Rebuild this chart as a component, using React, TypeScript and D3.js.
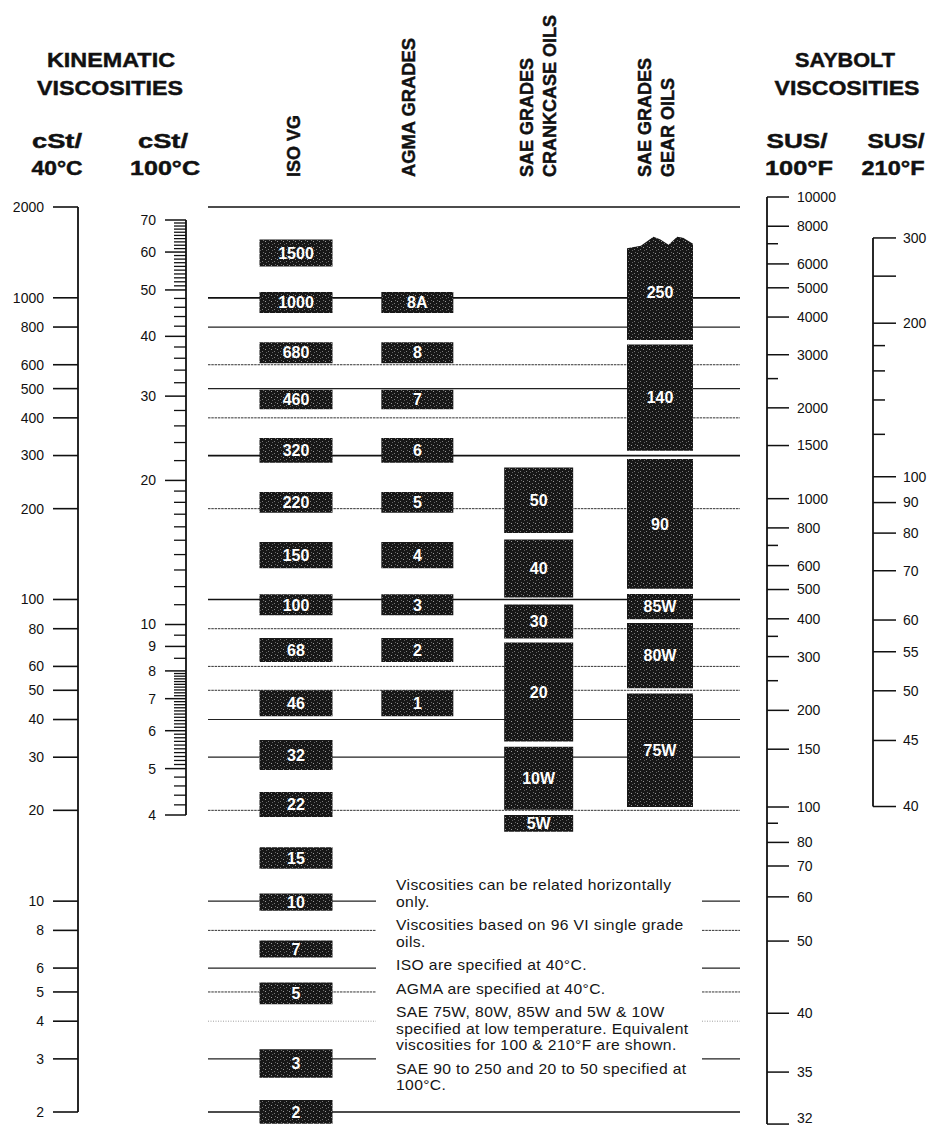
import React, { useRef, useEffect } from 'react';
import * as d3 from 'd3';

const WIDTH = 935;
const HEIGHT = 1129;

// cSt at 40 C, left scale (also the horizontal guide lines)
const cst40Ticks = [2000, 1000, 800, 600, 500, 400, 300, 200, 100, 80, 60, 50, 40, 30, 20, 10, 8, 6, 5, 4, 3, 2];
const heavyLines = [2000, 1000, 300, 100, 2];
const mediumLines = [800, 500, 40, 30, 10, 6, 3];
const faintLines = [4];
const brokenLines = [10, 8, 6, 5, 4, 3];

// cSt at 100 C
const cst100Labels = [70, 60, 50, 40, 30, 20, 10, 9, 8, 7, 6, 5, 4];

// Saybolt scales
const sus100Labels = [10000, 8000, 6000, 5000, 4000, 3000, 2000, 1500, 1000, 800, 600, 500, 400, 300, 200, 150, 100, 80, 70, 60, 50, 40, 35, 32];
const sus100Minor = [7000, 2500, 700, 350, 250, 90];
const sus210Labels = [300, 200, 100, 90, 80, 70, 60, 55, 50, 45, 40];
const sus210Long = [250];
const sus210Minor = [180, 160, 140, 120];

// grade bands, low/high in cSt at 40 C
const isoGrades = ['1500', '1000', '680', '460', '320', '220', '150', '100', '68', '46', '32', '22', '15', '10', '7', '5', '3', '2'];
const isoLow = [1270, 890, 607, 427, 284, 194, 127, 88.6, 62, 41, 27.2, 19, 12.8, 9.3, 6.5, 4.55, 2.6, 1.83];
const isoHigh = [1560, 1045, 713, 496, 343, 227, 155, 104, 74.5, 50, 34.2, 23, 15.1, 10.6, 7.4, 5.37, 3.23, 2.19];

const agmaGrades = ['8A', '8', '7', '6', '5', '4', '3', '2', '1'];
const agmaIso = ['1000', '680', '460', '320', '220', '150', '100', '68', '46'];

const crankGrades = ['50', '40', '30', '20', '10W', '5W'];
const crankLow = [166, 101.5, 74.2, 33.8, 20.1, 17];
const crankHigh = [274, 158, 96.2, 72, 32.5, 19.3];

const gearGrades = ['250', '140', '90', '85W', '80W', '75W'];
const gearLow = [725, 311, 108.6, 86, 50.8, 20.5];
const gearHigh = [1505, 700, 292, 104.3, 83.5, 48.8];

const notes = [
    ['Viscosities can be related horizontally', 'only.'],
    ['Viscosities based on 96 VI single grade', 'oils.'],
    ['ISO are specified at 40°C.'],
    ['AGMA are specified at 40°C.'],
    ['SAE 75W, 80W, 85W and 5W & 10W', 'specified at low temperature. Equivalent', 'viscosities for 100 & 210°F are shown.'],
    ['SAE 90 to 250 and 20 to 50 specified at', '100°C.'],
];

const columns = ['ISO VG', 'AGMA', 'CRANK', 'GEAR'];

const FONT = '"Liberation Sans", Arial, Helvetica, sans-serif';

// ASTM D2161 Saybolt Universal Seconds at 100 F from cSt
const sus = (v: number) =>
    4.6324 * v + (1.0 + 0.03264 * v) / ((3930.2 + 262.7 * v + 23.97 * v * v + 1.646 * v * v * v) * 1e-5);

const ViscosityChart: React.FC = () => {
    const ref = useRef<SVGSVGElement | null>(null);

    useEffect(() => {
        if (!ref.current) return;
        const svg = d3.select(ref.current);
        svg.selectAll('*').remove();

        const y40 = d3.scaleLog().domain([2, 2000]).range([1112, 207]);
        const y100 = d3.scaleLog().domain([4, 70]).range([815, 220]);
        const grid = d3.range(-20, 370).map(e => Math.pow(10, e / 100));
        const ySus100 = d3.scaleLog().domain(grid.map(sus)).range(grid.map(v => y40(v)));
        const ySus210 = d3.scaleLog().domain(grid.map(v => sus(v) * 1.00671)).range(grid.map(v => y100(v)));
        const labelY = (y: number) => Math.min(y, HEIGHT - 11);

        const xCol = d3.scalePoint<string>().domain(columns).range([296, 660]);
        const colWidth: Record<string, number> = { 'ISO VG': 73, AGMA: 72, CRANK: 69, GEAR: 66 };

        const defs = svg.append('defs');
        const pat = defs.append('pattern').attr('id', 'stipple')
            .attr('width', 6).attr('height', 6).attr('patternUnits', 'userSpaceOnUse');
        pat.append('rect').attr('width', 6).attr('height', 6).attr('fill', '#171717');
        [[1, 1, '#9a9a9a'], [4, 3, '#7a7a7a'], [2, 4, '#5e5e5e'], [5, 0, '#6a6a6a']].forEach(([x, y, c]) => {
            pat.append('rect').attr('x', x).attr('y', y).attr('width', 1).attr('height', 1).attr('fill', c as string);
        });

        const root = svg.append('g').attr('font-family', FONT).attr('fill', '#111');

        // ---- headers
        const head = root.append('g').attr('font-weight', 'bold').attr('stroke', '#111').attr('stroke-width', 0.45);
        const headText = (t: string, cx: number, y: number, len: number, size: number) =>
            head.append('text').attr('x', cx).attr('y', y).attr('text-anchor', 'middle')
                .attr('font-size', size).attr('textLength', len).attr('lengthAdjust', 'spacingAndGlyphs').text(t);
        headText('KINEMATIC', 111, 67, 128, 21);
        headText('VISCOSITIES', 110, 95, 146, 21);
        headText('cSt/', 57, 148, 50, 20);
        headText('40°C', 57, 175, 51, 20);
        headText('cSt/', 163, 148, 50, 20);
        headText('100°C', 165, 175, 70, 20);
        headText('SAYBOLT', 845, 67, 100, 21);
        headText('VISCOSITIES', 847, 95, 145, 21);
        headText('SUS/', 797, 148, 61, 20);
        headText('100°F', 799, 175, 68, 20);
        headText('SUS/', 896, 148, 57, 20);
        headText('210°F', 893, 175, 63, 20);

        const rotText = (t: string, cx: number, len: number) =>
            head.append('text').attr('transform', `translate(${cx + 7},177) rotate(-90)`)
                .attr('font-size', 18).attr('textLength', len).attr('lengthAdjust', 'spacingAndGlyphs').text(t);
        rotText('ISO VG', 293, 62);
        rotText('AGMA GRADES', 408, 139);
        rotText('SAE GRADES', 526, 119);
        rotText('CRANKCASE OILS', 549, 162);
        rotText('SAE GRADES', 644, 119);
        rotText('GEAR OILS', 667, 99);

        // ---- horizontal guide lines
        const guides = root.append('g').attr('fill', 'none');
        cst40Ticks.forEach(v => {
            const segs = brokenLines.includes(v) ? [[208, 376], [702, 740]] : [[208, 740]];
            segs.forEach(([a, b]) => {
                const l = guides.append('line').attr('x1', a).attr('x2', b).attr('y1', y40(v)).attr('y2', y40(v));
                if (heavyLines.includes(v)) l.attr('stroke', '#111').attr('stroke-width', 1.7);
                else if (mediumLines.includes(v)) l.attr('stroke', '#222').attr('stroke-width', 1.2);
                else if (faintLines.includes(v)) l.attr('stroke', '#888').attr('stroke-width', 0.8).attr('stroke-dasharray', '1 1.5');
                else l.attr('stroke', '#333').attr('stroke-width', 1).attr('stroke-dasharray', '2.5 0.8');
            });
        });

        // ---- left axis, cSt/40C
        const ax40 = root.append('g').attr('stroke', '#111');
        ax40.append('line').attr('x1', 78).attr('x2', 78).attr('y1', y40(2000)).attr('y2', y40(2)).attr('stroke-width', 1.8);
        ax40.selectAll('line.t').data(cst40Ticks).join('line').attr('class', 't')
            .attr('x1', 53).attr('x2', 78).attr('y1', d => y40(d)).attr('y2', d => y40(d)).attr('stroke-width', 1.6);
        root.append('g').attr('font-size', 14).attr('text-anchor', 'end')
            .selectAll('text').data(cst40Ticks).join('text')
            .attr('x', 44).attr('y', d => y40(d)).attr('dy', '0.35em').text(d => d);

        // ---- cSt/100C axis
        const minor100 = [
            ...d3.range(51, 70), ...d3.range(22, 50, 2), ...d3.range(11, 20), 8.5, 9.5,
            ...d3.range(51, 80).filter(i => i % 10 !== 0).map(i => i / 10),
            ...d3.range(21, 25).map(i => i / 5),
        ].filter(v => !cst100Labels.includes(v));
        const ax100 = root.append('g').attr('stroke', '#111');
        ax100.append('line').attr('x1', 186).attr('x2', 186).attr('y1', y100(70)).attr('y2', y100(4)).attr('stroke-width', 1.8);
        ax100.selectAll('line.M').data(cst100Labels).join('line').attr('class', 'M')
            .attr('x1', 165).attr('x2', 186).attr('y1', d => y100(d)).attr('y2', d => y100(d)).attr('stroke-width', 1.5);
        ax100.selectAll('line.m').data(minor100).join('line').attr('class', 'm')
            .attr('x1', 174).attr('x2', 186).attr('y1', d => y100(d)).attr('y2', d => y100(d)).attr('stroke-width', 1.3);
        root.append('g').attr('font-size', 14).attr('text-anchor', 'end')
            .selectAll('text').data(cst100Labels).join('text')
            .attr('x', 156).attr('y', d => y100(d)).attr('dy', '0.35em').text(d => d);

        // ---- SUS/100F axis
        const axS1 = root.append('g').attr('stroke', '#111');
        axS1.append('line').attr('x1', 767).attr('x2', 767).attr('y1', ySus100(10000)).attr('y2', ySus100(32)).attr('stroke-width', 1.8);
        axS1.selectAll('line.M').data(sus100Labels).join('line').attr('class', 'M')
            .attr('x1', 767).attr('x2', 789).attr('y1', d => ySus100(d)).attr('y2', d => ySus100(d)).attr('stroke-width', 1.5);
        axS1.selectAll('line.m').data(sus100Minor).join('line').attr('class', 'm')
            .attr('x1', 767).attr('x2', 778).attr('y1', d => ySus100(d)).attr('y2', d => ySus100(d)).attr('stroke-width', 1.5);
        root.append('g').attr('font-size', 14)
            .selectAll('text').data(sus100Labels).join('text')
            .attr('x', 797).attr('y', d => labelY(ySus100(d))).attr('dy', '0.35em').text(d => d);

        // ---- SUS/210F axis
        const axS2 = root.append('g').attr('stroke', '#111');
        axS2.append('line').attr('x1', 873).attr('x2', 873).attr('y1', ySus210(300)).attr('y2', ySus210(40)).attr('stroke-width', 1.8);
        axS2.selectAll('line.M').data([...sus210Labels, ...sus210Long]).join('line').attr('class', 'M')
            .attr('x1', 873).attr('x2', 896).attr('y1', d => ySus210(d)).attr('y2', d => ySus210(d)).attr('stroke-width', 1.5);
        axS2.selectAll('line.m').data(sus210Minor).join('line').attr('class', 'm')
            .attr('x1', 873).attr('x2', 885).attr('y1', d => ySus210(d)).attr('y2', d => ySus210(d)).attr('stroke-width', 1.5);
        root.append('g').attr('font-size', 14)
            .selectAll('text').data(sus210Labels).join('text')
            .attr('x', 903).attr('y', d => ySus210(d)).attr('dy', '0.35em').text(d => d);

        // ---- grade boxes
        type Band = { label: string; lo: number; hi: number; col: string };
        const bands: Band[] = [
            ...isoGrades.map((g, i) => ({ label: g, lo: isoLow[i], hi: isoHigh[i], col: 'ISO VG' })),
            ...agmaGrades.map((g, i) => {
                const k = isoGrades.indexOf(agmaIso[i]);
                return { label: g, lo: isoLow[k], hi: isoHigh[k], col: 'AGMA' };
            }),
            ...crankGrades.map((g, i) => ({ label: g, lo: crankLow[i], hi: crankHigh[i], col: 'CRANK' })),
            ...gearGrades.map((g, i) => ({ label: g, lo: gearLow[i], hi: gearHigh[i], col: 'GEAR' })),
        ];

        const boxes = root.append('g');
        const bg = boxes.selectAll('g').data(bands).join('g');
        bg.append('path')
            .attr('fill', 'url(#stipple)')
            .attr('d', d => {
                const w = colWidth[d.col];
                const x0 = (xCol(d.col) as number) - w / 2;
                const x1 = x0 + w;
                const yt = y40(d.hi);
                const yb = y40(d.lo);
                if (d.label === '250') {
                    // torn top: the band continues above the chart
                    const p = d3.path();
                    p.moveTo(x0, yt + 4);
                    p.lineTo(x0 + 0.21 * w, yt + 1.5);
                    p.lineTo(x0 + 0.4 * w, yt - 7.5);
                    p.lineTo(x0 + 0.5 * w, yt - 5);
                    p.lineTo(x0 + 0.63 * w, yt + 0.5);
                    p.lineTo(x0 + 0.76 * w, yt - 7.5);
                    p.lineTo(x0 + 0.85 * w, yt - 6.5);
                    p.lineTo(x1, yt - 0.5);
                    p.lineTo(x1, yb);
                    p.lineTo(x0, yb);
                    p.closePath();
                    return p.toString();
                }
                return `M${x0},${yt}H${x1}V${yb}H${x0}Z`;
            });
        bg.append('text')
            .attr('x', d => xCol(d.col) as number)
            .attr('y', d => (y40(d.hi) + y40(d.lo)) / 2)
            .attr('dy', '0.36em')
            .attr('text-anchor', 'middle')
            .attr('fill', '#fff')
            .attr('font-weight', 'bold')
            .attr('font-size', 16)
            .text(d => d.label);

        // ---- notes
        const nt = root.append('g').attr('font-size', 14.5).attr('fill', '#151515').attr('letter-spacing', 0.35);
        let y = 890;
        notes.forEach((group, gi) => {
            if (gi > 0) y += 23.5;
            group.forEach((line, li) => {
                if (li > 0) y += 16.5;
                nt.append('text').attr('transform', `translate(396,${y}) scale(1.08,1)`).text(line);
            });
        });

        return () => {
            svg.selectAll('*').remove();
        };
    }, []);

    return (
        <svg ref={ref} width={WIDTH} height={HEIGHT}
            style={{ position: 'absolute', left: 0, top: 0, background: '#fff' }} />
    );
};

export default function App() {
    return <ViscosityChart />;
}
